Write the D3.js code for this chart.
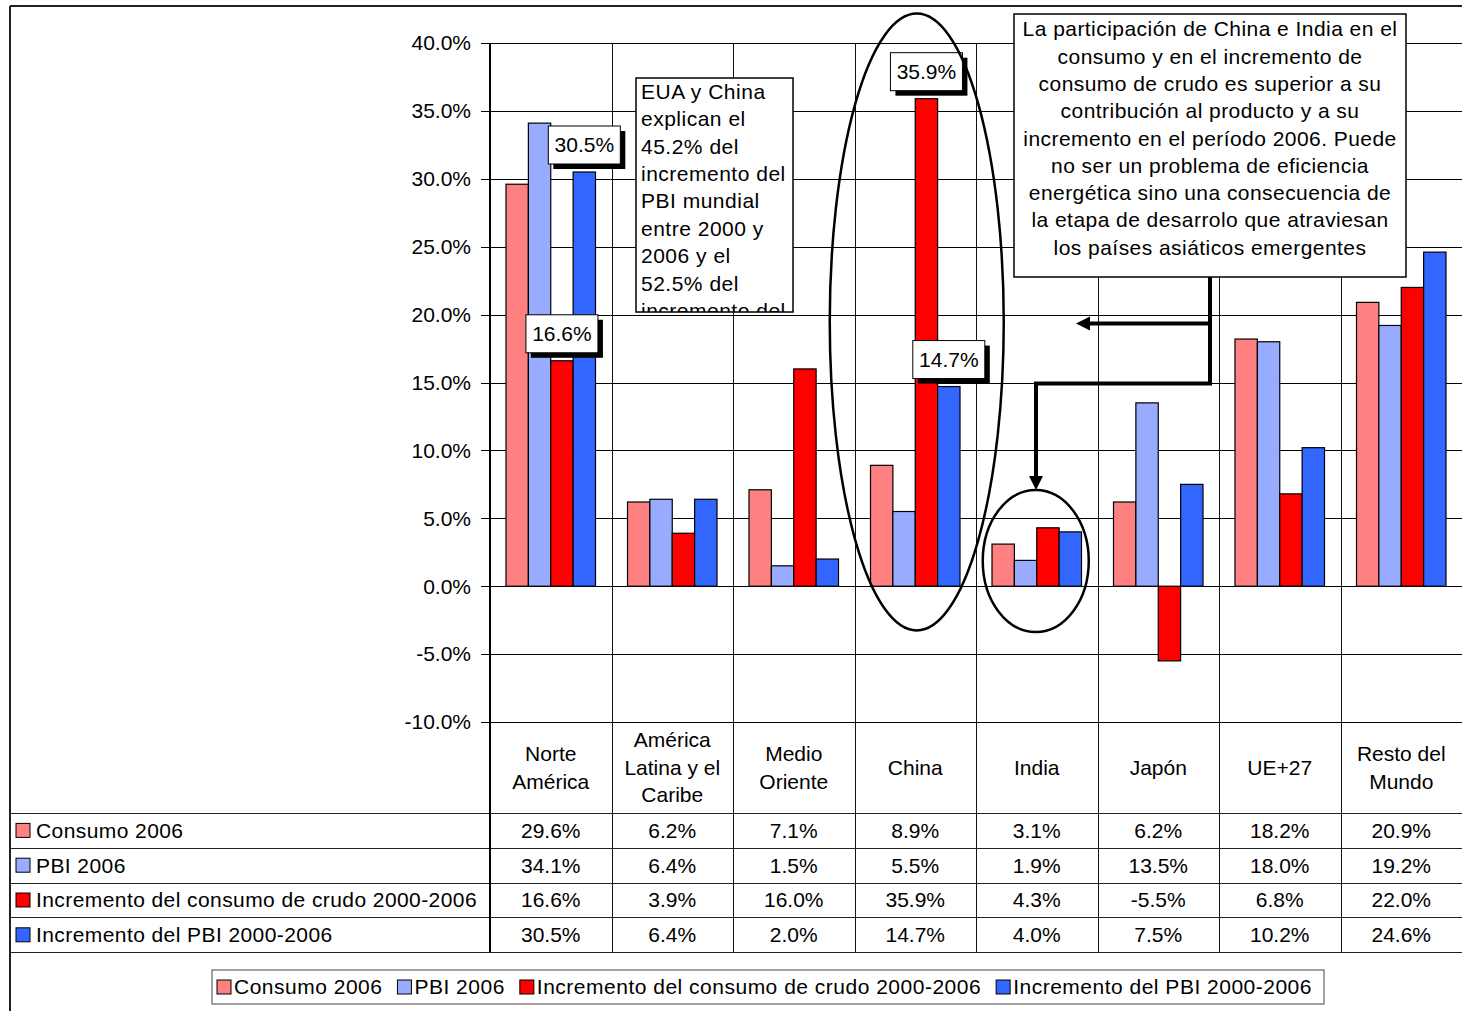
<!DOCTYPE html>
<html><head><meta charset="utf-8">
<script src="https://cdn.jsdelivr.net/npm/d3@7"></script>
<style>
html,body{margin:0;padding:0;background:#fff;}
svg{display:block;font-family:"Liberation Sans",Arial,sans-serif;}
</style></head>
<body>
<svg id="chart" width="1462" height="1011"></svg>
<script>
// ---- data ----
const categories = ["Norte\nAmérica","América\nLatina y el\nCaribe","Medio\nOriente","China","India","Japón","UE+27","Resto del\nMundo"];
const seriesNames = ["Consumo 2006","PBI 2006","Incremento del consumo de crudo 2000-2006","Incremento del PBI 2000-2006"];
const seriesColors = ["#FF8080","#99ABFF","#FF0000","#3366FF"];
const consumo2006 = [29.6, 6.2, 7.1, 8.9, 3.1, 6.2, 18.2, 20.9];
const pbi2006 = [34.1, 6.4, 1.5, 5.5, 1.9, 13.5, 18.0, 19.2];
const incConsumo = [16.6, 3.9, 16.0, 35.9, 4.3, -5.5, 6.8, 22.0];
const incPBI = [30.5, 6.4, 2.0, 14.7, 4.0, 7.5, 10.2, 24.6];
const seriesValues = [consumo2006, pbi2006, incConsumo, incPBI];
const yTicks = [-10,-5,0,5,10,15,20,25,30,35,40];
// labelled points: [category index, series index]
const labelled = [[0,3],[0,2],[3,2],[3,3]];
const note1Lines = ["EUA y China","explican el","45.2% del","incremento del","PBI mundial","entre 2000 y","2006 y el","52.5% del","incremento del"];
const note2Lines = ["La participación de China e India en el","consumo y en el incremento de","consumo de crudo es superior a su","contribución al producto y a su","incremento en el período 2006. Puede","no ser un problema de eficiencia","energética sino una consecuencia de","la etapa de desarrolo que atraviesan","los países asiáticos emergentes"];

// ---- layout ----
const svg = d3.select("#chart");
const FS = 21;
const plotL = 490, plotR = 1462, plotT = 43, plotB = 722;
const frameL = 10, frameT = 6;
const tableTop = 813, rowH = 34.8, tableBottom = tableTop + 4*rowH;

const x0 = d3.scaleBand().domain(d3.range(categories.length)).range([plotL, plotR]).padding(0);
const bw = x0.bandwidth();
const x1 = d3.scaleBand().domain(d3.range(seriesNames.length)).range([16, bw-16]).padding(0);
const y = d3.scaleLinear().domain([-10,40]).range([plotB, plotT]);
const fmt = v => d3.format(".1f")(v).replace("\u2212","-") + "%";

svg.append("rect").attr("width",1462).attr("height",1011).attr("fill","#fff");

// grid
const g = svg.append("g").attr("shape-rendering","crispEdges");
g.selectAll("line.h").data(yTicks).join("line")
  .attr("x1", plotL-9).attr("x2", plotR)
  .attr("y1", d=>Math.round(y(d))+0.5).attr("y2", d=>Math.round(y(d))+0.5)
  .attr("stroke","#000").attr("stroke-width",1);
g.selectAll("line.v").data(d3.range(1, categories.length)).join("line")
  .attr("x1", i=>Math.round(x0(i))+0.5).attr("x2", i=>Math.round(x0(i))+0.5)
  .attr("y1", plotT).attr("y2", tableBottom)
  .attr("stroke","#111").attr("stroke-width",1);
// table rows
g.selectAll("line.r").data(d3.range(5)).join("line")
  .attr("x1", frameL).attr("x2", plotR)
  .attr("y1", i=>Math.round(tableTop+i*rowH)+0.5).attr("y2", i=>Math.round(tableTop+i*rowH)+0.5)
  .attr("stroke","#222").attr("stroke-width",1);
// axis line
g.append("line").attr("x1",plotL).attr("x2",plotL).attr("y1",plotT).attr("y2",tableBottom)
  .attr("stroke","#000").attr("stroke-width",2);
// frame
g.append("line").attr("x1",frameL).attr("x2",1462).attr("y1",frameT).attr("y2",frameT).attr("stroke","#222").attr("stroke-width",2);
g.append("line").attr("x1",frameL).attr("x2",frameL).attr("y1",frameT).attr("y2",1011).attr("stroke","#222").attr("stroke-width",2);

// y labels
svg.append("g").selectAll("text").data(yTicks).join("text")
  .attr("x", plotL-19).attr("y", d=>y(d)).attr("dy","0.35em")
  .attr("text-anchor","end").attr("font-size",FS).attr("fill","#000")
  .text(fmt);

// bars
const bars = svg.append("g");
seriesValues.forEach((vals, s) => {
  bars.selectAll(null).data(vals).join("rect")
    .attr("x", (d,i)=>x0(i)+x1(s))
    .attr("width", x1.bandwidth())
    .attr("y", d=>y(Math.max(0,d)))
    .attr("height", d=>Math.abs(y(d)-y(0)))
    .attr("fill", seriesColors[s]).attr("stroke","#000").attr("stroke-width",1.2);
});

// category labels
const catG = svg.append("g");
categories.forEach((c,i) => {
  const lines = c.split("\n");
  const cy = (plotB + tableTop)/2;
  const lh = 27.4;
  const t = catG.append("text").attr("text-anchor","middle").attr("font-size",FS).attr("fill","#000");
  lines.forEach((ln,k) => {
    t.append("tspan").attr("x", x0(i)+bw/2).attr("y", cy + (k-(lines.length-1)/2)*lh).attr("dy","0.35em").text(ln);
  });
});

// table rows
seriesNames.forEach((name,s) => {
  const cy = tableTop + s*rowH + rowH/2;
  svg.append("rect").attr("x",16).attr("y",cy-7).attr("width",14).attr("height",14)
    .attr("fill",seriesColors[s]).attr("stroke","#000").attr("stroke-width",1);
  svg.append("text").attr("x",36).attr("y",cy).attr("dy","0.35em").attr("font-size",FS)
    .attr("letter-spacing","0.42px").text(name);
  svg.append("g").selectAll("text").data(seriesValues[s]).join("text")
    .attr("x",(d,i)=>x0(i)+bw/2).attr("y",cy).attr("dy","0.35em")
    .attr("text-anchor","middle").attr("font-size",FS).text(fmt);
});

// data labels
labelled.forEach(([ci,s]) => {
  const v = seriesValues[s][ci];
  const cx = x0(ci)+x1(s)+x1.bandwidth()/2;
  const bot = y(v) - 8;
  const w = 72, h = 38;
  svg.append("rect").attr("x",cx-w/2+5).attr("y",bot-h+5).attr("width",w).attr("height",h).attr("fill","#000");
  svg.append("rect").attr("x",cx-w/2).attr("y",bot-h).attr("width",w).attr("height",h).attr("fill","#fff").attr("stroke","#000").attr("stroke-width",1);
  svg.append("text").attr("x",cx).attr("y",bot-h/2).attr("dy","0.35em").attr("text-anchor","middle").attr("font-size",FS).text(fmt(v));
});

// ellipses
const chinaX = x0(3)+bw/2, indiaX = x0(4)+bw/2;
svg.append("ellipse").attr("cx",chinaX+1.5).attr("cy",322).attr("rx",87).attr("ry",308.5)
  .attr("fill","none").attr("stroke","#000").attr("stroke-width",2.5);
svg.append("ellipse").attr("cx",indiaX-1).attr("cy",561).attr("rx",53).attr("ry",71)
  .attr("fill","none").attr("stroke","#000").attr("stroke-width",2.5);

// note 1 (clipped)
const n1 = {x:636, y:78, w:157, h:234};
svg.append("clipPath").attr("id","clip1").append("rect").attr("x",n1.x).attr("y",n1.y).attr("width",n1.w).attr("height",n1.h);
svg.append("rect").attr("x",n1.x).attr("y",n1.y).attr("width",n1.w).attr("height",n1.h).attr("fill","#fff");
const t1 = svg.append("text").attr("clip-path","url(#clip1)").attr("font-size",FS).attr("letter-spacing","0.5px");
note1Lines.forEach((ln,k)=>{
  t1.append("tspan").attr("x",n1.x+5).attr("y",n1.y+13.5+k*27.4).attr("dy","0.35em").text(ln);
});
svg.append("rect").attr("x",n1.x).attr("y",n1.y).attr("width",n1.w).attr("height",n1.h).attr("fill","none").attr("stroke","#000").attr("stroke-width",1.5);

// arrows
const arrowG = svg.append("g").attr("stroke","#000").attr("stroke-width",4).attr("fill","none");
const bendY = 383.5, dropX = 1036, stemX = 1210, sideY = 323.5, sideTip = 1076, downTip = 490;
arrowG.append("path").attr("d",`M${stemX},277 L${stemX},${bendY} L${dropX},${bendY} L${dropX},${downTip-12}`).attr("stroke-linejoin","miter");
arrowG.append("path").attr("d",`M${stemX},${sideY} L${sideTip+12},${sideY}`);
svg.append("path").attr("d",`M${dropX-7},${downTip-14} L${dropX+7},${downTip-14} L${dropX},${downTip} Z`).attr("fill","#000");
svg.append("path").attr("d",`M${sideTip+14},${sideY-7} L${sideTip+14},${sideY+7} L${sideTip},${sideY} Z`).attr("fill","#000");

// note 2
const n2 = {x:1014, y:14, w:392, h:263};
svg.append("rect").attr("x",n2.x).attr("y",n2.y).attr("width",n2.w).attr("height",n2.h).attr("fill","#fff").attr("stroke","#000").attr("stroke-width",1.5);
const t2 = svg.append("text").attr("font-size",FS).attr("text-anchor","middle").attr("letter-spacing","0.45px");
note2Lines.forEach((ln,k)=>{
  t2.append("tspan").attr("x",n2.x+n2.w/2).attr("y",n2.y+15+k*27.3).attr("dy","0.35em").text(ln);
});

// legend
const lg = svg.append("g");
const legY = 987;
let lx = 217;
seriesNames.forEach((name,s)=>{
  lg.append("rect").attr("x",lx).attr("y",legY-7).attr("width",14).attr("height",14)
    .attr("fill",seriesColors[s]).attr("stroke","#000").attr("stroke-width",1);
  const t = lg.append("text").attr("x",lx+17).attr("y",legY).attr("dy","0.35em").attr("font-size",FS)
    .attr("letter-spacing","0.5px").text(name);
  const w = t.node().getComputedTextLength();
  lx = lx + 17 + w + (s < seriesNames.length-1 ? 15 : 0);
});
lg.insert("rect",":first-child").attr("x",212).attr("y",970).attr("width",lx-212+12).attr("height",34)
  .attr("fill","#fff").attr("stroke","#444").attr("stroke-width",1);
</script>
</body></html>
